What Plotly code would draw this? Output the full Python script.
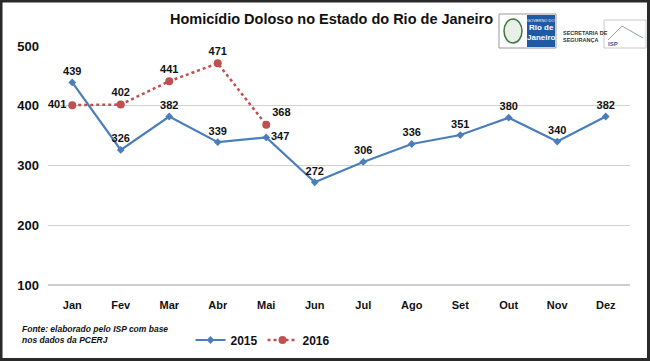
import plotly.graph_objects as go

meses = ['Jan', 'Fev', 'Mar', 'Abr', 'Mai', 'Jun', 'Jul', 'Ago', 'Set', 'Out', 'Nov', 'Dez']
valores_2015 = [439, 326, 382, 339, 347, 272, 306, 336, 351, 380, 340, 382]
valores_2016 = [401, 402, 441, 471, 368]
y_ticks = [100, 200, 300, 400, 500]

W, H = 650, 361
ML, MR, MT, MB = 48, 20, 46, 76
PW, PH = W - ML - MR, H - MT - MB


def px(x):
    return (x - ML) / PW


def py(y):
    return (H - MB - y) / PH


FONT = 'Liberation Sans, Arial, sans-serif'
AZUL = '#4a7ebb'
VERMELHO = '#c0504d'

pos_2015 = ['top center'] * 12
pos_2015[4] = 'middle right'
pos_2016 = ['middle left', 'top center', 'top center', 'top center', 'top right']

fig = go.Figure()
fig.add_trace(go.Scatter(
    x=meses, y=valores_2015, name='2015',
    mode='lines+markers+text',
    line=dict(color=AZUL, width=2.2),
    marker=dict(symbol='diamond', size=6, color=AZUL),
    text=[str(v) for v in valores_2015], textposition=pos_2015,
    textfont=dict(family=FONT, size=11, color='#111', weight='bold'),
))
fig.add_trace(go.Scatter(
    x=meses[:len(valores_2016)], y=valores_2016, name='2016',
    mode='lines+markers+text',
    line=dict(color=VERMELHO, width=2.5, dash='dot'),
    marker=dict(symbol='circle', size=8, color=VERMELHO),
    text=[str(v) for v in valores_2016], textposition=pos_2016,
    textfont=dict(family=FONT, size=11, color='#111', weight='bold'),
))

fig.update_xaxes(
    range=[-0.5, len(meses) - 0.5],
    showgrid=False, showline=False, ticks='',
    tickfont=dict(family=FONT, size=11, color='#111', weight='bold'),
    ticklabelstandoff=12,
)
fig.update_yaxes(
    range=[100, 500], tickvals=y_ticks,
    showgrid=True, gridcolor='#d0d0d0', gridwidth=1,
    zeroline=False, showline=False,
    tickfont=dict(family=FONT, size=13, color='#111', weight='bold'),
    ticklabelstandoff=8,
)

shapes = [
    # moldura
    dict(type='rect', xref='paper', yref='paper',
         x0=px(1), x1=px(W - 1.5), y0=py(H - 1.5), y1=py(1),
         line=dict(color='#2a2a2a', width=3), fillcolor='rgba(0,0,0,0)', layer='above'),
    # linha do eixo 100
    dict(type='line', xref='paper', yref='paper', x0=0, x1=1, y0=0, y1=0,
         line=dict(color='#bdbdbd', width=1.5)),
    # logos
    dict(type='rect', xref='paper', yref='paper',
         x0=px(494), x1=px(W - 4), y0=py(52), y1=py(10),
         line=dict(width=0), fillcolor='white', layer='above'),
    dict(type='rect', xref='paper', yref='paper',
         x0=px(499), x1=px(556), y0=py(48), y1=py(14),
         line=dict(color='#999', width=1), fillcolor='white', layer='above'),
    dict(type='rect', xref='paper', yref='paper',
         x0=px(527), x1=px(555), y0=py(47), y1=py(15),
         line=dict(width=0), fillcolor='#1f5aa6', layer='above'),
    dict(type='circle', xref='paper', yref='paper',
         x0=px(504), x1=px(522), y0=py(43), y1=py(19),
         line=dict(color='#3c7a3c', width=1.5), fillcolor='#e8efe8', layer='above'),
    dict(type='rect', xref='paper', yref='paper',
         x0=px(604), x1=px(646), y0=py(48), y1=py(20),
         line=dict(color='#c8c8c8', width=1), fillcolor='white', layer='above'),
    dict(type='line', xref='paper', yref='paper',
         x0=px(608), x1=px(622), y0=py(40), y1=py(26),
         line=dict(color='#8aa0b8', width=1), layer='above'),
    dict(type='line', xref='paper', yref='paper',
         x0=px(622), x1=px(643), y0=py(26), y1=py(38),
         line=dict(color='#8aa0b8', width=1), layer='above'),
]


def nota(texto, x, y, tamanho, cor='#111', xanchor='center', align='center'):
    return dict(text=texto, xref='paper', yref='paper', x=px(x), y=py(y),
                xanchor=xanchor, yanchor='middle', align=align, showarrow=False,
                font=dict(family=FONT, size=tamanho, color=cor))


annotations = [
    nota('<b>Homicídio Doloso no Estado do Rio de Janeiro</b>', 331, 19, 14.5),
    nota('<b><i>Fonte: elaborado pelo ISP com base<br>nos dados da PCERJ</i></b>',
         20, 334, 8.5, xanchor='left', align='left'),
    nota('GOVERNO DO', 541, 20, 4, cor='white'),
    nota('<b>Rio de</b>', 541, 28, 8, cor='white'),
    nota('<b>Janeiro</b>', 541, 38, 8, cor='white'),
    nota('<b>SECRETARIA DE<br>SEGURANÇA</b>', 561, 36, 5.5, cor='#333',
         xanchor='left', align='left'),
    nota('<b>ISP</b>', 606, 44, 6, cor='#2a5fa0', xanchor='left'),
]

fig.update_layout(
    width=W, height=H,
    margin=dict(l=ML, r=MR, t=MT, b=MB, autoexpand=False),
    paper_bgcolor='white', plot_bgcolor='white',
    font=dict(family=FONT, color='#111'),
    showlegend=True,
    legend=dict(orientation='h', xref='paper', yref='paper',
                x=px(263), y=py(340), xanchor='center', yanchor='middle',
                font=dict(family=FONT, size=12, color='#111', weight='bold'),
                itemwidth=30, tracegroupgap=0),
    shapes=shapes,
    annotations=annotations,
)

fig.write_html('out.html', config={'displayModeBar': False},
               post_script="document.body.style.margin='0px';")
